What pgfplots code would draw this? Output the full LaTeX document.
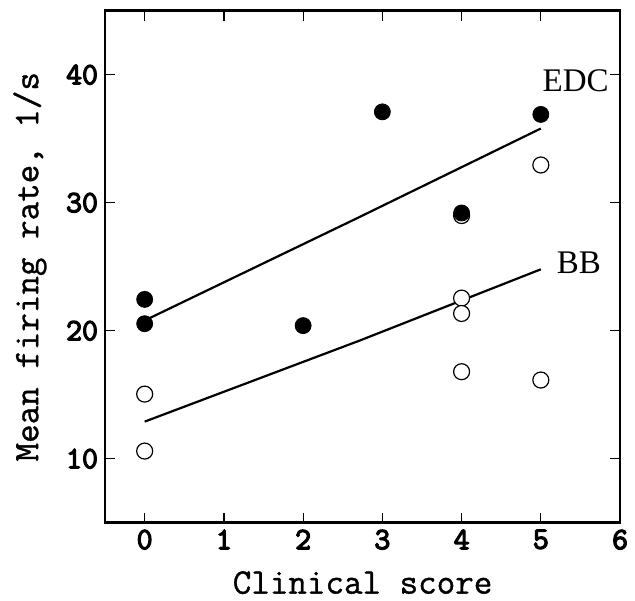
\documentclass[border=0pt]{standalone}
\usepackage{pgfplots}
\pgfplotsset{compat=1.18}
\usepackage{fontspec}
\newfontfamily\seriffont{Liberation Serif}
\newfontfamily\boldtt{Latin Modern Mono}[FakeBold=4]
\newfontfamily\labeltt{Latin Modern Mono}[FakeBold=1]

\begin{document}
\begin{tikzpicture}
\begin{axis}[
  scale only axis,
  width=257.5pt, height=256pt,
  xmin=-0.5, xmax=6, ymin=5, ymax=45,
  xtick={0,1,2,3,4,5,6},
  ytick={10,20,30,40},
  tick align=inside,
  major tick length=5pt,
  tick style={line width=0.6pt, black},
  axis line style={line width=1.3pt},
  /pgf/number format/assume math mode=true,
  ticklabel style={font=\boldtt\fontsize{15.5}{15.5}\selectfont},
  xlabel={Clinical score},
  ylabel={Mean firing rate, 1/s},
  label style={font=\labeltt\fontsize{18}{18}\selectfont},
  xlabel style={at={(axis description cs:0.5,-0.117)}, anchor=center},
  ylabel style={at={(axis description cs:-0.146,0.5)}, anchor=center},
  clip=false,
]
% open circles: BB
\addplot[only marks, mark=*, mark size=4pt, mark options={fill=white, draw=black, line width=0.6pt}] coordinates {
  (0,15.05) (0,10.6) (4,29.0) (4,22.55) (4,21.35) (4,16.8) (5,32.95) (5,16.15)
};
% filled circles: EDC
\addplot[only marks, mark=*, mark size=4pt, mark options={fill=black, draw=black}] coordinates {
  (0,22.45) (0,20.55) (2,20.4) (3,37.1) (4,29.2) (5,36.9)
};
% fitted lines
\addplot[line width=1.1pt, black] coordinates {(0,20.8) (2.7,28.85) (5,35.8)};
\addplot[line width=1.1pt, black] coordinates {(0,12.9) (2.7,19.2) (5,24.8)};
\node[font=\seriffont\fontsize{16.5}{16.5}\selectfont] at (axis cs:5.44,39.5) {EDC};
\node[font=\seriffont\fontsize{16.5}{16.5}\selectfont] at (axis cs:5.48,25.3) {BB};
\path (axis description cs:-0.204,-0.152) rectangle (axis description cs:1.029,1.021);
\end{axis}
\end{tikzpicture}
\end{document}
